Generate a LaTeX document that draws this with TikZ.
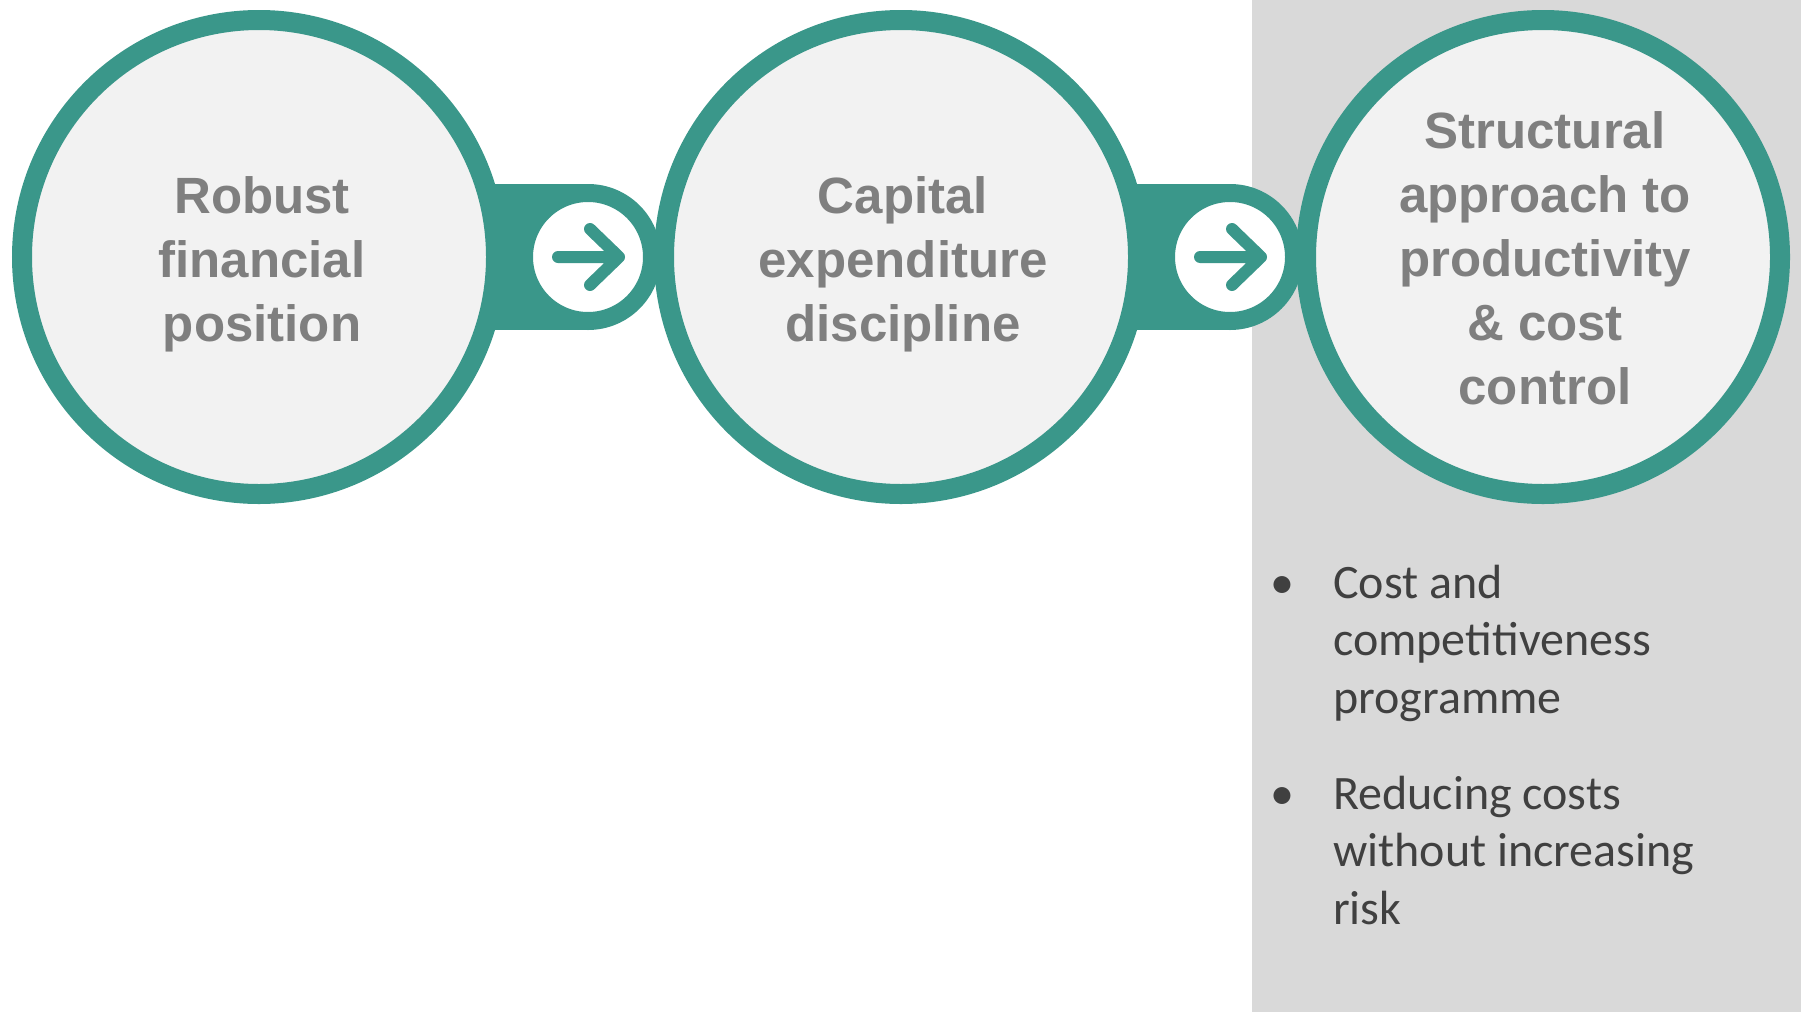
\documentclass[tikz,border=0pt]{standalone}
\usepackage{fontspec}
\setmainfont{Liberation Sans}
\newfontfamily\listfont{Carlito}
\usetikzlibrary{positioning,backgrounds}
\definecolor{ring}{HTML}{3A978A}
\definecolor{disc}{HTML}{F2F2F2}
\definecolor{label}{HTML}{7F7F7F}
\definecolor{panel}{HTML}{D9D9D9}
\definecolor{ink}{HTML}{404040}

\begin{document}
\begin{tikzpicture}[x=1pt, y=-1pt,
  stage/.style={circle, draw=ring, line width=20pt, fill=disc, minimum size=474pt, inner sep=0pt},
  title/.style={align=center, inner sep=0pt, text=label, font=\bfseries\fontsize{51}{64}\selectfont},
  badge/.style={circle, draw=ring, line width=18pt, fill=white, minimum size=128pt, inner sep=0pt},
  tip/.style={draw=ring, line width=12pt, line cap=round, line join=round},
  item/.style={anchor=base west, align=left, inner sep=0pt, text=ink, font=\listfont\fontsize{48}{57.4}\selectfont},
  dot/.style={anchor=base, inner sep=0pt, text=ink, font=\listfont\fontsize{48}{57.4}\selectfont},
  node distance=148pt]
\useasboundingbox (0,0) rectangle (1801,1012);
\node[stage] (c1) at (259,257) {};
\node[badge, right=9pt of c1] (a1) {};
\node[stage, right=of c1] (c2) {};
\node[badge, right=9pt of c2] (a2) {};
\node[stage, right=of c2] (c3) {};
\node[title] (t1) at ([xshift=3pt, yshift=-7pt]c1.center) {Robust\\financial\\position};
\node[title] (t2) at ([xshift=2pt, yshift=-7pt]c2.center) {Capital\\expenditure\\discipline};
\node[title] (t3) at ([xshift=2pt, yshift=-1pt]c3.center) {Structural\\approach to\\productivity\\\& cost\\control};
\draw[tip, shift={(a1.center)}] (-30,0) -- (31,0) (2,-28) -- (31,0) -- (2,28);
\draw[tip, shift={(a2.center)}] (-30,0) -- (31,0) (2,-28) -- (31,0) -- (2,28);
% side panel and the bars behind the circles
\begin{scope}[on background layer]
  \fill[panel] (1252,0) rectangle (1801,1012);
  \fill[ring] (c1.center |- a1.north) rectangle (a1.south);
  \fill[ring] (c2.center |- a2.north) rectangle (a2.south);
\end{scope}
\node[dot] (d1) at (1282,598) {•};
\node[item] (p1) at (1333,713) {Cost and\\competitiveness\\programme};
\node[dot] (d2) at (1282,809) {•};
\node[item] (p2) at (1333,924) {Reducing costs\\without increasing\\risk};
\end{tikzpicture}
\end{document}
